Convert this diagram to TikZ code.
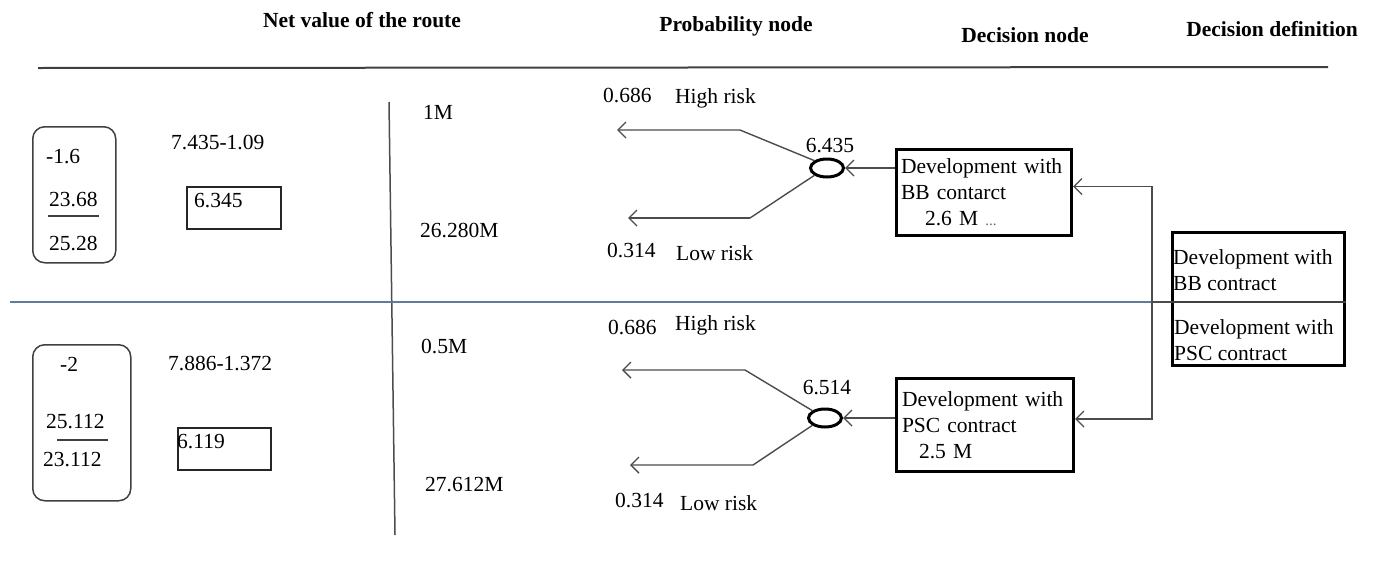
\documentclass[tikz,border=0pt]{standalone}
\usepackage{fontspec}
\setmainfont{Liberation Serif}
\usetikzlibrary{arrows.meta,shapes.geometric}
\definecolor{bluegray}{RGB}{95,125,155}
\begin{document}
\begin{tikzpicture}[x=1pt,y=-1pt,
  txt/.style={font=\fontsize{21.5}{26}\selectfont, inner sep=0pt, anchor=west, align=left},
  hdr/.style={font=\fontsize{21.5}{26}\selectfont\bfseries, inner sep=0pt},
  ln/.style={draw=black!70, line width=1.4pt},
  arr/.style={ln, -{Straight Barb[length=8pt,width=16pt,line width=1.4pt]}},
  dbox/.style={draw, line width=3pt, anchor=north west, align=left, inner xsep=4pt, inner ysep=0pt,
    text width=166pt, font=\fontsize{21.5}{26}\selectfont},
  rbox/.style={draw=black!75, line width=1.5pt, rounded corners=12pt, anchor=north west, inner sep=0pt},
  vbox/.style={draw=black!85, line width=1.5pt, anchor=north west, inner sep=0pt},
  chance/.style={ellipse, draw, line width=3pt, minimum width=33pt, minimum height=18pt, inner sep=0pt}
]
\useasboundingbox (0,0) rectangle (1382,571);

% headers
\node[hdr] (hnet) at (362,20) {Net value of the route};
\node[hdr] (hprob) at (736,26) {Probability node};
\node[hdr] (hdec) at (1025,35) {Decision node};
\node[hdr] (hdef) at (1272,29) {Decision definition};
\coordinate (rl) at (38,68);
\coordinate (rr) at (1328,67);
\draw[draw=black!75, line width=2pt] (rl) -- (rr);

% separators
\coordinate (vt) at (389,102);
\coordinate (vb) at (395,535);
\draw[draw=black!70, line width=1.5pt] (vt) -- (vb);
\coordinate (bl) at (10,302);
\coordinate (mid) at (1152,302);

% left: route values, top
\node[rbox, minimum width=83pt, minimum height=136pt] (r1) at (32,126) {};
\node[txt] (r1a) at (46,157) {-1.6};
\node[txt] (r1b) at (49,199) {23.68};
\coordinate (f1l) at (48,216);
\coordinate (f1r) at (99,216);
\draw[draw=black!75, line width=1.5pt] (f1l) -- (f1r);
\node[txt] (r1c) at (49,243) {25.28};
\node[txt] (e1) at (171,142) {7.435-1.09};
\node[vbox, minimum width=94pt, minimum height=42pt] (v1) at (186,186) {};
\node[txt] (v1t) at (194,201) {6.345};

% left: route values, bottom
\node[rbox, minimum width=98pt, minimum height=156pt] (r2) at (32,344) {};
\node[txt] (r2a) at (60,364) {-2};
\node[txt] (r2b) at (46,422) {25.112};
\coordinate (f2l) at (57,440);
\coordinate (f2r) at (108,440);
\draw[draw=black!75, line width=1.5pt] (f2l) -- (f2r);
\node[txt] (r2c) at (43,460) {23.112};
\node[txt] (e2) at (168,363) {7.886-1.372};
\node[vbox, minimum width=93pt, minimum height=42pt] (v2) at (177,427) {};
\node[txt] (v2t) at (177,442) {6.119};

% middle amounts
\node[txt] (m1) at (423,112) {1M};
\node[txt] (m2) at (420,230) {26.280M};
\node[txt] (m3) at (421,346) {0.5M};
\node[txt] (m4) at (425,485) {27.612M};

% top tree
\node[chance] (c1) at (827,168) {};
\node[txt, anchor=center] (c1v) at (830,146) {6.435};
\coordinate (k1) at (740,130);
\coordinate (h1) at (617,130);
\coordinate (n1) at (750,218);
\coordinate (l1) at (628,218);
\draw[arr] (c1.north west) -- (k1) -- (h1);
\draw[ln] (c1.south west) -- (n1);
\draw[arr, line width=2.5pt] (n1) -- (l1);
\node[txt] (p1) at (603,95) {0.686};
\node[txt] (t1) at (675,98) {High risk};
\node[txt] (p2) at (607,250) {0.314};
\node[txt] (t2) at (676,253) {Low risk};
\node[dbox, minimum width=175pt, minimum height=86pt] (b1) at (895,148)
  {Development with\\BB contarct\\\hspace*{24pt}2.6 M {\color{black!60}\fontsize{15}{15}\selectfont...}};
\draw[arr] (b1.west |- c1) -- (c1.east);

% bottom tree
\node[chance] (c2) at (825,418) {};
\node[txt, anchor=center] (c2v) at (827,388) {6.514};
\coordinate (k2) at (745,370);
\coordinate (h2) at (622,370);
\coordinate (n2) at (753,465);
\coordinate (l2) at (630,465);
\draw[arr] (c2.north west) -- (k2) -- (h2);
\draw[arr] (c2.south west) -- (n2) -- (l2);
\node[txt] (p3) at (608,327) {0.686};
\node[txt] (t3) at (675,325) {High risk};
\node[txt] (p4) at (615,500) {0.314};
\node[txt] (t4) at (680,503) {Low risk};
\node[dbox, minimum width=177pt, minimum height=93pt] (b2) at (895,377)
  {Development with\\PSC contract\\\hspace*{17pt}2.5 M};
\draw[arr] (b2.west |- c2) -- (c2.east);

% decision definition
\node[draw, line width=3pt, anchor=north west, minimum width=172pt, minimum height=133pt, inner sep=0pt] (dd) at (1171,231) {};
\draw[draw=black!75, line width=1.5pt] (dd.west |- mid) -- (dd.east |- mid);
\node[txt] (dd1) at (1173,270) {Development with\\BB contract};
\node[txt] (dd2) at (1174,340) {Development with\\PSC contract};

% connectors to decision nodes
\draw[draw=bluegray, line width=1.3pt] (bl) -- (mid);
\draw[ln] (mid) -- (dd.west |- mid);
\draw[arr] (mid) |- ([yshift=6pt]b1.east);
\draw[arr] (mid) |- ([yshift=6pt]b2.east);
\end{tikzpicture}
\end{document}
